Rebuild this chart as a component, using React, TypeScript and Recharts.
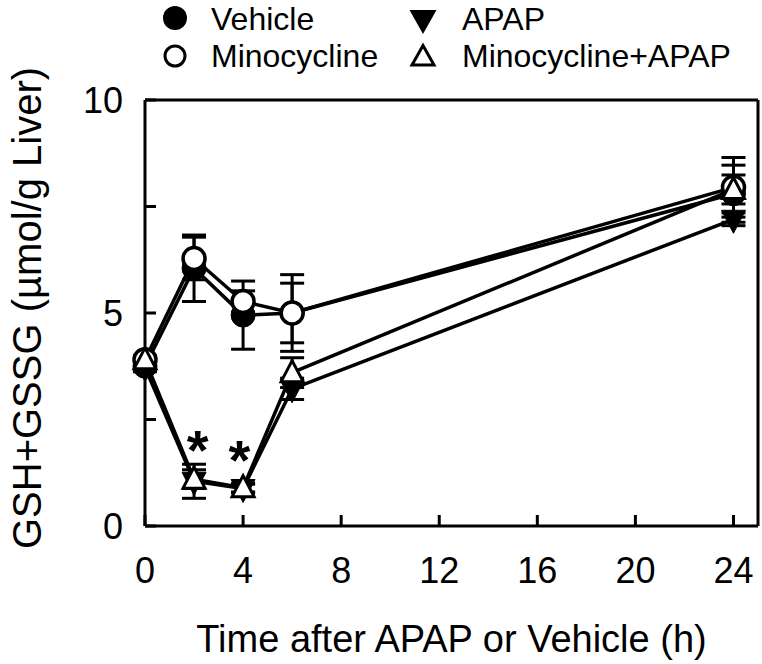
import React from 'react';
import { ComposedChart, Line, XAxis, YAxis, ErrorBar, Scatter, ReferenceLine } from 'recharts';

const times = [0, 2, 4, 6, 24];
const vehicle = [3.75, 6.05, 4.95, 5.0, 7.8];
const vehicleErr = [0.1, 0.78, 0.8, 0.9, 0.67];
const minocycline = [3.9, 6.28, 5.27, 5.0, 7.95];
const minocyclineErr = [0.1, 0.5, 0.25, 0.7, 0.7];
const apap = [3.72, 1.05, 0.88, 3.22, 7.2];
const apapErr = [0.1, 0.4, 0.1, 0.25, 0.15];
const minoApap = [3.9, 1.1, 0.9, 3.6, 7.9];
const minoApapErr = [0.1, 0.22, 0.1, 0.35, 0.34];

const xTicks = [0, 4, 8, 12, 16, 20, 24];
const yTicks = [0, 2.5, 5, 7.5, 10];
const yLabeled = [0, 5, 10];

const starTimes = [2.15, 3.85];
const starValues = [2.1, 1.86];

const legendNames = ['Vehicle', 'APAP', 'Minocycline', 'Minocycline+APAP'];

const data = times.map((t, i) => ({
  time: t,
  vehicle: vehicle[i],
  vehicleErr: vehicleErr[i],
  minocycline: minocycline[i],
  minocyclineErr: minocyclineErr[i],
  apap: apap[i],
  apapErr: apapErr[i],
  minoApap: minoApap[i],
  minoApapErr: minoApapErr[i],
}));

const stars = starTimes.map((t, i) => ({ time: t, value: starValues[i] }));

const FONT = '"Liberation Sans", Arial, Helvetica, sans-serif';

const FilledCircle = (p: any) =>
  p.cx == null ? null : <circle key={p.key} cx={p.cx} cy={p.cy} r={12} fill="#000" stroke="#000" strokeWidth={1} />;
const OpenCircle = (p: any) =>
  p.cx == null ? null : <circle key={p.key} cx={p.cx} cy={p.cy} r={11} fill="#fff" stroke="#000" strokeWidth={3.5} />;
const FilledTriDown = (p: any) =>
  p.cx == null ? null : (
    <path key={p.key} d={`M${p.cx - 12},${p.cy - 9} L${p.cx + 12},${p.cy - 9} L${p.cx},${p.cy + 14} Z`} fill="#000" stroke="#000" strokeWidth={1} />
  );
const OpenTriUp = (p: any) =>
  p.cx == null ? null : (
    <path key={p.key} d={`M${p.cx - 11},${p.cy + 9} L${p.cx + 11},${p.cy + 9} L${p.cx},${p.cy - 12} Z`} fill="#fff" stroke="#000" strokeWidth={3} strokeLinejoin="miter" />
  );

const Star = (p: any) =>
  p.cx == null ? null : (
    <text x={p.cx} y={p.cy + 32} textAnchor="middle" fontSize={56} fontWeight="bold" fontFamily={FONT} fill="#000">*</text>
  );

const LeftTick = (p: any) => {
  const { x, y, payload } = p;
  const v = payload.value;
  return (
    <g>
      <line x1={x} y1={y} x2={x + 11} y2={y} stroke="#000" strokeWidth={3} />
      {yLabeled.includes(v) && (
        <text x={x - 22} y={y + 12.8} textAnchor="end" fontSize={36} fontFamily={FONT} fill="#000">{v}</text>
      )}
    </g>
  );
};

const RightTick = (p: any) => {
  const { x, y } = p;
  return <line x1={x} y1={y} x2={x - 11} y2={y} stroke="#000" strokeWidth={3} />;
};

const BottomTick = (p: any) => {
  const { x, y, payload } = p;
  return (
    <g>
      <line x1={x} y1={y} x2={x} y2={y - 11} stroke="#000" strokeWidth={3} />
      <text x={x} y={y + 57} textAnchor="middle" fontSize={36} fontFamily={FONT} fill="#000">{payload.value}</text>
    </g>
  );
};

const XTitle = (p: any) => {
  const vb = p.viewBox || {};
  return (
    <text x={(vb.x ?? 145) + (vb.width ?? 613) / 2} y={652} textAnchor="middle" fontSize={38} fontFamily={FONT} fill="#000">
      Time after APAP or Vehicle (h)
    </text>
  );
};

const YTitle = () => (
  <text x={27} y={308} transform="rotate(-90, 27, 308)" textAnchor="middle" dominantBaseline="central" fontSize={40} fontFamily={FONT} fill="#000">
    GSH+GSSG (µmol/g Liver)
  </text>
);

const Legend = () => (
  <svg width={762} height={80} style={{ position: 'absolute', left: 0, top: 0, pointerEvents: 'none' }}>
    <circle cx={175} cy={18} r={12} fill="#000" />
    <text x={211} y={30} fontSize={32} fontFamily={FONT} fill="#000">{legendNames[0]}</text>
    <path d="M409.5,10 L436.5,10 L423,34 Z" fill="#000" />
    <text x={462} y={30} fontSize={32} fontFamily={FONT} fill="#000">{legendNames[1]}</text>
    <circle cx={175} cy={56} r={10} fill="#fff" stroke="#000" strokeWidth={3} />
    <text x={211} y={67} fontSize={32} fontFamily={FONT} fill="#000">{legendNames[2]}</text>
    <path d="M412,65 L434,65 L423,45.5 Z" fill="#fff" stroke="#000" strokeWidth={3} />
    <text x={462} y={67} fontSize={32} fontFamily={FONT} fill="#000">{legendNames[3]}</text>
  </svg>
);

export default function App() {
  return (
    <div style={{ position: 'absolute', left: 0, top: 0, width: 762, height: 664, background: '#fff' }}>
      <ComposedChart width={762} height={664} data={data} margin={{ top: 100, right: 0, bottom: 0, left: 85 }}>
        <XAxis
          dataKey="time"
          type="number"
          domain={[0, 25]}
          ticks={xTicks}
          height={138}
          axisLine={{ stroke: '#000', strokeWidth: 3 }}
          tickLine={false}
          tickSize={0}
          tickMargin={0}
          tick={<BottomTick />}
          interval={0}
          label={<XTitle />}
        />
        <YAxis
          yAxisId="left"
          type="number"
          domain={[0, 10]}
          ticks={yTicks}
          width={60}
          axisLine={{ stroke: '#000', strokeWidth: 3 }}
          tickLine={false}
          tickSize={0}
          tickMargin={0}
          tick={<LeftTick />}
          interval={0}
          label={<YTitle />}
        />
        <YAxis
          yAxisId="right"
          orientation="right"
          type="number"
          domain={[0, 10]}
          ticks={yTicks}
          width={4}
          axisLine={{ stroke: '#000', strokeWidth: 3 }}
          tickLine={false}
          tickSize={0}
          tickMargin={0}
          tick={<RightTick />}
          interval={0}
        />
        <ReferenceLine yAxisId="left" y={10} stroke="#000" strokeWidth={3} />
        <Line yAxisId="left" dataKey="vehicle" stroke="#000" strokeWidth={3.5} dot={FilledCircle} isAnimationActive={false}>
          <ErrorBar dataKey="vehicleErr" width={12} stroke="#000" strokeWidth={3} direction="y" />
        </Line>
        <Line yAxisId="left" dataKey="apap" stroke="#000" strokeWidth={3.5} dot={FilledTriDown} isAnimationActive={false}>
          <ErrorBar dataKey="apapErr" width={12} stroke="#000" strokeWidth={3} direction="y" />
        </Line>
        <Line yAxisId="left" dataKey="minocycline" stroke="#000" strokeWidth={3.5} dot={OpenCircle} isAnimationActive={false}>
          <ErrorBar dataKey="minocyclineErr" width={12} stroke="#000" strokeWidth={3} direction="y" />
        </Line>
        <Line yAxisId="left" dataKey="minoApap" stroke="#000" strokeWidth={3.5} dot={OpenTriUp} isAnimationActive={false}>
          <ErrorBar dataKey="minoApapErr" width={12} stroke="#000" strokeWidth={3} direction="y" />
        </Line>
        <Scatter yAxisId="left" data={stars} dataKey="value" shape={Star} isAnimationActive={false} />
      </ComposedChart>
      <Legend />
    </div>
  );
}
